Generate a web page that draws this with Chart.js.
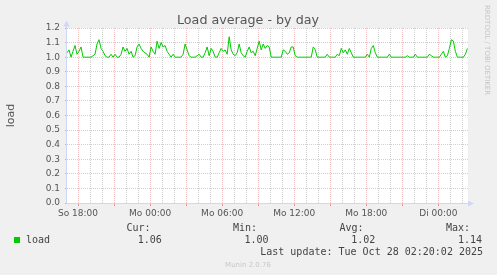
<!DOCTYPE html>
<html><head><meta charset="utf-8">
<script src="https://cdn.jsdelivr.net/npm/chart.js@4"></script>
<style>html,body{margin:0;padding:0;background:#f0f0f0;}canvas{display:block}</style>
</head><body>
<canvas id="c" width="497" height="275"></canvas>
<script>
const TITLE = 'Load average - by day';
const UNIT_LABEL = 'load';
const SERIES_NAME = 'load';
const START_MINUTE = -55;   // first sample, minutes relative to "So 18:00"
const STEP_MINUTES = 10;
const X_MIN = -55, X_MAX = 1948;
const loadValues = [
  1.03,1.05,1.00,1.04,1.08,1.02,1.04,1.07,1.00,1.00,
  1.00,1.00,1.00,1.01,1.02,1.09,1.12,1.06,1.04,1.01,
  1.00,1.00,1.02,1.00,1.02,1.00,1.00,1.02,1.07,1.04,
  1.06,1.02,1.04,1.00,1.01,1.07,1.09,1.06,1.04,1.03,
  1.02,1.00,1.07,1.04,1.02,1.11,1.06,1.10,1.07,1.08,
  1.04,1.02,1.00,1.02,1.00,1.00,1.00,1.00,1.02,1.09,
  1.05,1.01,1.00,1.00,1.00,1.01,1.02,1.00,1.00,1.03,
  1.07,1.01,1.06,1.04,1.00,1.00,1.03,1.06,1.04,1.05,
  1.02,1.14,1.05,1.02,1.01,1.03,1.09,1.03,1.01,1.00,
  1.04,1.07,1.03,1.04,1.01,1.06,1.11,1.05,1.09,1.06,
  1.08,1.07,1.00,1.00,1.00,1.00,1.00,1.00,1.05,1.04,
  1.02,1.03,1.07,1.07,1.01,1.00,1.00,1.00,1.00,1.00,
  1.00,1.00,1.00,1.07,1.05,1.00,1.00,1.00,1.00,1.00,
  1.02,1.00,1.00,1.00,1.00,1.02,1.01,1.06,1.03,1.05,
  1.02,1.06,1.03,1.00,1.00,1.00,1.00,1.00,1.00,1.00,
  1.02,1.00,1.06,1.08,1.03,1.00,1.00,1.00,1.00,1.00,
  1.00,1.02,1.00,1.00,1.00,1.00,1.00,1.00,1.00,1.00,
  1.01,1.00,1.00,1.00,1.02,1.00,1.00,1.00,1.00,1.00,
  1.00,1.02,1.01,1.00,1.00,1.00,1.00,1.02,1.04,1.00,
  1.01,1.06,1.12,1.11,1.04,1.00,1.00,1.00,1.00,1.02,
  1.06
];
const hourGridMinutes = [];
for (let m = 0; m <= 1920; m += 60) hourGridMinutes.push(m);
const xTickMinutes = [0, 360, 720, 1080, 1440, 1800];
const xTickLabels = ['So 18:00', 'Mo 00:00', 'Mo 06:00', 'Mo 12:00', 'Mo 18:00', 'Di 00:00'];
const yTickValues = [0, 0.1, 0.2, 0.3, 0.4, 0.5, 0.6, 0.7, 0.8, 0.9, 1.0, 1.1, 1.2];
const statLabels = ['Cur:', 'Min:', 'Avg:', 'Max:'];
const statValues = ['1.06', '1.00', '1.02', '1.14'];
const LAST_UPDATE = 'Last update: Tue Oct 28 02:20:02 2025';
const WATERMARK = 'RRDTOOL / TOBI OETIKER';
const FOOTER = 'Munin 2.0.76';

const GREEN = '#00cc00';
const AXIS = '#cfd6f8';
const MAJOR = 'rgba(225,110,110,0.42)';
const MINOR = 'rgba(150,150,150,0.45)';
const TEXT = '#555555';

const muninPlugin = {
  id: 'munin',
  beforeDraw(chart) {
    const ctx = chart.ctx, a = chart.chartArea;
    ctx.save();
    ctx.fillStyle = '#f0f0f0';
    ctx.fillRect(0, 0, chart.width, chart.height);
    ctx.fillStyle = '#ffffff';
    ctx.fillRect(a.left, a.top, a.right - a.left, a.bottom - a.top);
    ctx.restore();
  },
  afterDraw(chart) {
    const ctx = chart.ctx, a = chart.chartArea;
    ctx.save();
    // axes
    ctx.strokeStyle = AXIS; ctx.fillStyle = AXIS; ctx.lineWidth = 1;
    const ax = Math.floor(a.left) - 0.5, ay = Math.floor(a.bottom) + 0.5;
    ctx.beginPath(); ctx.moveTo(ax, ay); ctx.lineTo(ax, 24); ctx.stroke();
    ctx.beginPath(); ctx.moveTo(ax - 3, 26.5); ctx.lineTo(ax + 3, 26.5); ctx.lineTo(ax, 20.5); ctx.closePath(); ctx.fill();
    ctx.beginPath(); ctx.moveTo(ax, ay); ctx.lineTo(470, ay); ctx.stroke();
    ctx.beginPath(); ctx.moveTo(468, ay - 3); ctx.lineTo(468, ay + 3); ctx.lineTo(474, ay); ctx.closePath(); ctx.fill();

    // title
    ctx.fillStyle = TEXT;
    ctx.font = '12.7px "DejaVu Sans"';
    ctx.textAlign = 'center'; ctx.textBaseline = 'alphabetic';
    ctx.fillText(TITLE, 248, 24);

    // unit label
    ctx.save();
    ctx.translate(14, 115.5);
    ctx.rotate(-Math.PI / 2);
    ctx.font = '11px "DejaVu Sans"';
    ctx.textAlign = 'center';
    ctx.fillText(UNIT_LABEL, 0, 0);
    ctx.restore();

    // watermark
    ctx.save();
    ctx.translate(485, 5);
    ctx.rotate(Math.PI / 2);
    ctx.font = '7px "DejaVu Sans"';
    ctx.fillStyle = '#c4c4c4';
    ctx.textAlign = 'left';
    ctx.fillText(WATERMARK, 0, 0);
    ctx.restore();

    // legend
    ctx.fillStyle = GREEN;
    ctx.fillRect(14, 237, 6, 6);
    ctx.fillStyle = '#444444';
    ctx.font = '10px "DejaVu Sans Mono"';
    ctx.textAlign = 'left';
    ctx.fillText(SERIES_NAME, 26, 242.7);
    const labelX = [126.5, 233, 339.5, 446];
    const valueX = [137.7, 244.5, 351.2, 458];
    for (let i = 0; i < statLabels.length; i++) {
      ctx.fillText(statLabels[i], labelX[i], 231);
      ctx.fillText(statValues[i], valueX[i], 242.7);
    }
    ctx.textAlign = 'right';
    ctx.fillText(LAST_UPDATE, 483, 254.5);

    // footer
    ctx.fillStyle = '#c8c8c8';
    ctx.font = '7px "DejaVu Sans"';
    ctx.textAlign = 'center';
    ctx.fillText(FOOTER, 248, 266.5);
    ctx.restore();
  }
};

new Chart(document.getElementById('c'), {
  type: 'line',
  data: {
    datasets: [{
      label: SERIES_NAME,
      data: loadValues.map((v, i) => ({ x: START_MINUTE + i * STEP_MINUTES, y: v })),
      borderColor: GREEN,
      borderWidth: 1,
      pointRadius: 0,
      fill: false,
      tension: 0
    }]
  },
  options: {
    responsive: false,
    animation: false,
    devicePixelRatio: 1,
    layout: { padding: { top: 28, right: 29, bottom: 52, left: 0 } },
    plugins: { legend: { display: false }, tooltip: { enabled: false }, title: { display: false } },
    scales: {
      x: {
        type: 'linear',
        min: X_MIN, max: X_MAX,
        afterFit: s => { s.height = 20; },
        afterBuildTicks: s => { s.ticks = hourGridMinutes.map(v => ({ value: v })); },
        ticks: {
          autoSkip: false, maxRotation: 0, minRotation: 0,
          padding: 2,
          color: TEXT,
          font: { family: 'DejaVu Sans', size: 9 },
          callback: v => { const k = xTickMinutes.indexOf(v); return k >= 0 ? xTickLabels[k] : ''; }
        },
        grid: {
          color: c => (c.tick && c.tick.value % 180 === 0) ? MAJOR : MINOR,
          tickColor: c => (c.tick && c.tick.value % 180 === 0) ? 'rgba(225,110,110,0.7)' : 'rgba(0,0,0,0)',
          tickLength: 3,
          drawTicks: true
        },
        border: { display: false, dash: [1, 1] }
      },
      y: {
        min: 0, max: 1.2,
        afterFit: s => { s.width = 67; },
        afterBuildTicks: s => { s.ticks = yTickValues.map(v => ({ value: v })); },
        ticks: {
          padding: 5,
          color: TEXT,
          font: { family: 'DejaVu Sans', size: 9 },
          callback: v => Number(v).toFixed(1)
        },
        grid: {
          color: MAJOR,
          tickColor: 'rgba(225,110,110,0.6)',
          tickLength: 2,
          drawTicks: true
        },
        border: { display: false, dash: [1, 1] }
      }
    }
  },
  plugins: [muninPlugin]
});
</script>
</body></html>
